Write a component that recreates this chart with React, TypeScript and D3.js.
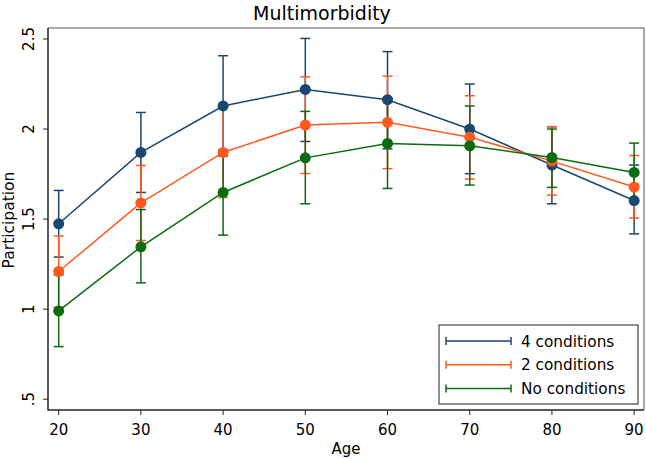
import React from "react";
import * as d3 from "d3";

const ages = [20, 30, 40, 50, 60, 70, 80, 90];
const seriesNames = ["4 conditions", "2 conditions", "No conditions"];
const seriesColors = ["#1a476f", "#ff5a1e", "#0b6b10"];

const mean4 = [1.474, 1.87, 2.128, 2.22, 2.163, 2.0, 1.8, 1.603];
const lo4 = [1.289, 1.648, 1.85, 1.931, 1.89, 1.752, 1.585, 1.418];
const hi4 = [1.659, 2.092, 2.407, 2.503, 2.43, 2.25, 2.013, 1.8];

const mean2 = [1.209, 1.59, 1.87, 2.022, 2.037, 1.955, 1.822, 1.678];
const lo2 = [1.011, 1.381, 1.62, 1.753, 1.78, 1.722, 1.633, 1.506];
const hi2 = [1.406, 1.798, 2.12, 2.29, 2.294, 2.185, 2.013, 1.853];

const mean0 = [0.99, 1.346, 1.648, 1.84, 1.92, 1.907, 1.842, 1.759];
const lo0 = [0.792, 1.146, 1.411, 1.585, 1.67, 1.689, 1.676, 1.6];
const hi0 = [1.19, 1.553, 1.885, 2.098, 2.17, 2.128, 2.0, 1.922];

const yTicks = [0.5, 1, 1.5, 2, 2.5];
const yTickLabels = [".5", "1", "1.5", "2", "2.5"];
const xTicks = [20, 30, 40, 50, 60, 70, 80, 90];

const W = 646;
const H = 458;
const FONT = "'DejaVu Sans', sans-serif";

export default function App() {
  const left = 48, right = 644, top = 28, bottom = 410;
  const x = d3.scaleLinear().domain([18.7, 91.2]).range([left, right]);
  const y = d3.scaleLinear().domain([0.44, 2.561]).range([bottom, top]);

  const series = [
    { mean: mean4, lo: lo4, hi: hi4 },
    { mean: mean2, lo: lo2, hi: hi2 },
    { mean: mean0, lo: lo0, hi: hi0 },
  ];
  const line = d3.line<number>().x((_, i) => x(ages[i])).y((d) => y(d));
  const cap = 5;

  return (
    <svg width={W} height={H} style={{ position: "absolute", left: 0, top: 0, background: "#fff" }} fontFamily={FONT}>
      <rect x={0} y={0} width={W} height={H} fill="#fff" />
      <text x={322} y={20} textAnchor="middle" fontSize={19} fill="#000">Multimorbidity</text>
      {/* frame */}
      <line x1={left} x2={right} y1={top} y2={top} stroke="#555" strokeWidth={1} />
      <line x1={right} x2={right} y1={top} y2={bottom} stroke="#555" strokeWidth={1} />
      <line x1={left} x2={left} y1={top} y2={bottom + 0.5} stroke="#222" strokeWidth={1.5} />
      <line x1={left} x2={right} y1={bottom} y2={bottom} stroke="#222" strokeWidth={1.5} />
      {/* y axis */}
      {yTicks.map((t, i) => (
        <g key={t}>
          <line x1={left - 5} x2={left} y1={y(t)} y2={y(t)} stroke="#222" strokeWidth={1} />
          <text transform={`translate(${34},${y(t)}) rotate(-90)`} textAnchor="middle" fontSize={15} fill="#000">{yTickLabels[i]}</text>
        </g>
      ))}
      <text transform={`translate(${14},${(top + bottom) / 2 + 1}) rotate(-90)`} textAnchor="middle" fontSize={15.5} fill="#000">Participation</text>
      {/* x axis */}
      {xTicks.map((t) => (
        <g key={t}>
          <line x1={x(t)} x2={x(t)} y1={bottom} y2={bottom + 5} stroke="#222" strokeWidth={1} />
          <text x={x(t)} y={435} textAnchor="middle" fontSize={15} fill="#000">{t}</text>
        </g>
      ))}
      <text x={(left + right) / 2} y={454} textAnchor="middle" fontSize={15} fill="#000">Age</text>
      {/* CIs */}
      {series.map((s, si) => (
        <g key={"ci" + si} stroke={seriesColors[si]} strokeWidth={1.5}>
          {ages.map((a, i) => (
            <g key={a}>
              <line x1={x(a)} x2={x(a)} y1={y(s.lo[i])} y2={y(s.hi[i])} />
              <line x1={x(a) - cap} x2={x(a) + cap} y1={y(s.lo[i])} y2={y(s.lo[i])} />
              <line x1={x(a) - cap} x2={x(a) + cap} y1={y(s.hi[i])} y2={y(s.hi[i])} />
            </g>
          ))}
        </g>
      ))}
      {/* lines and markers */}
      {series.map((s, si) => (
        <g key={"ln" + si}>
          <path d={line(s.mean) || ""} fill="none" stroke={seriesColors[si]} strokeWidth={1.5} />
          {ages.map((a, i) => (
            <circle key={a} cx={x(a)} cy={y(s.mean[i])} r={5.5} fill={seriesColors[si]} />
          ))}
        </g>
      ))}
      {/* legend */}
      <rect x={439} y={325} width={199} height={79} fill="#fff" stroke="#222" strokeWidth={1} />
      {seriesNames.map((n, i) => {
        const ly = 341 + i * 23.8;
        return (
          <g key={n}>
            <g stroke={seriesColors[i]} strokeWidth={1.5}>
              <line x1={446} x2={511} y1={ly} y2={ly} />
              <line x1={446} x2={446} y1={ly - 4} y2={ly + 4} />
              <line x1={511} x2={511} y1={ly - 4} y2={ly + 4} />
            </g>
            <text x={521} y={ly + 5.5} fontSize={15.3} fill="#000">{n}</text>
          </g>
        );
      })}
    </svg>
  );
}
